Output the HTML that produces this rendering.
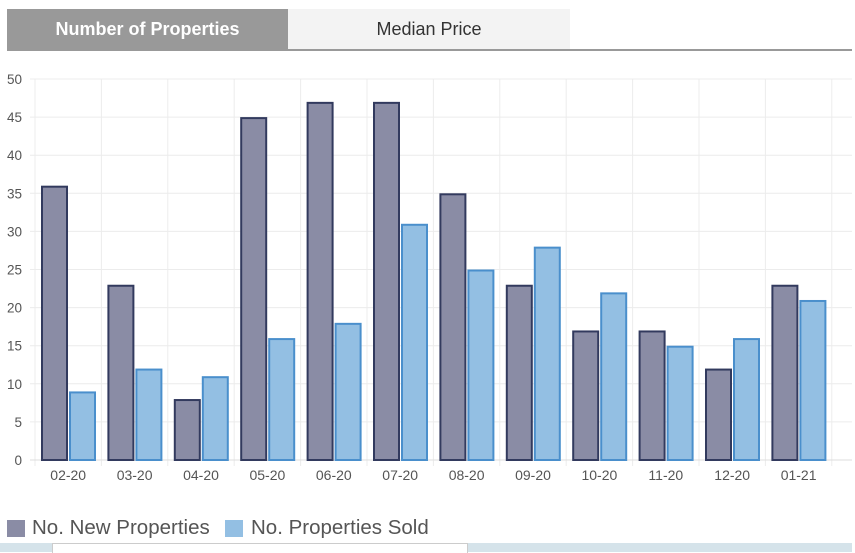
<!DOCTYPE html>
<html><head><meta charset="utf-8"><style>
body{margin:0;width:855px;height:552px;overflow:hidden;background:#fff;font-family:"Liberation Sans",sans-serif;position:relative}
.tab{position:absolute;top:9px;height:41px;line-height:41px;text-align:center;font-size:18px}
</style></head><body>
<div class="tab" style="left:7px;width:281px;background:#999;color:#fff;font-weight:bold">Number of Properties</div>
<div class="tab" style="left:288px;width:282px;background:#f3f3f3;color:#333">Median Price</div>
<div style="position:absolute;left:7px;top:49px;width:845px;height:2px;background:#999"></div>
<svg width="855" height="552" style="position:absolute;left:0;top:0" font-family="Liberation Sans, sans-serif">
<g id="g"></g>
</svg>
<div style="position:absolute;left:0;top:543px;width:852px;height:9px;background:#d5e3ea"></div>
<div style="position:absolute;left:52px;top:543px;width:414px;height:9px;background:#fff;border:1px solid #ccc;border-bottom:none"></div>
<div style="position:absolute;left:7px;top:520px;width:18px;height:17px;background:#8a8ca5"></div>
<div style="position:absolute;left:32px;top:516px;font-size:20.5px;color:#555">No. New Properties</div>
<div style="position:absolute;left:225px;top:520px;width:18px;height:17px;background:#93bfe3"></div>
<div style="position:absolute;left:251px;top:516px;font-size:20.5px;color:#555">No. Properties Sold</div>
<script>
var g=document.getElementById('g'),s='';
var y0=460,k=7.62,x0=35,w=66.4;
for(var v=0;v<=50;v+=5){var y=y0-v*k;s+='<line x1="30" x2="852" y1="'+y+'" y2="'+y+'" stroke="#ececec"/>';
s+='<text x="22" y="'+(y+5)+'" text-anchor="end" font-size="13.5" fill="#555">'+v+'</text>';}
for(var i=0;i<=12;i++){var x=x0+i*w;s+='<line x1="'+x+'" x2="'+x+'" y1="79" y2="466" stroke="#ececec"/>';}
s+='<line x1="30" x2="852" y1="460" y2="460" stroke="#ddd"/>';
var L=['02-20','03-20','04-20','05-20','06-20','07-20','08-20','09-20','10-20','11-20','12-20','01-21'];
var A=[36,23,8,45,47,47,35,23,17,17,12,23],B=[9,12,11,16,18,31,25,28,22,15,16,21];
for(var i=0;i<12;i++){var x=x0+i*w;
var h=A[i]*k-1;s+='<rect x="'+(x+7)+'" y="'+(y0-h)+'" width="25" height="'+h+'" fill="#8a8ca5" stroke="#323a5e" stroke-width="2"/>';
h=B[i]*k-1;s+='<rect x="'+(x+35)+'" y="'+(y0-h)+'" width="25" height="'+h+'" fill="#93bfe3" stroke="#4a8fcc" stroke-width="2"/>';
s+='<text x="'+(x+w/2)+'" y="480" text-anchor="middle" font-size="14" fill="#555">'+L[i]+'</text>';}
g.innerHTML=s;
</script>
</body></html>
